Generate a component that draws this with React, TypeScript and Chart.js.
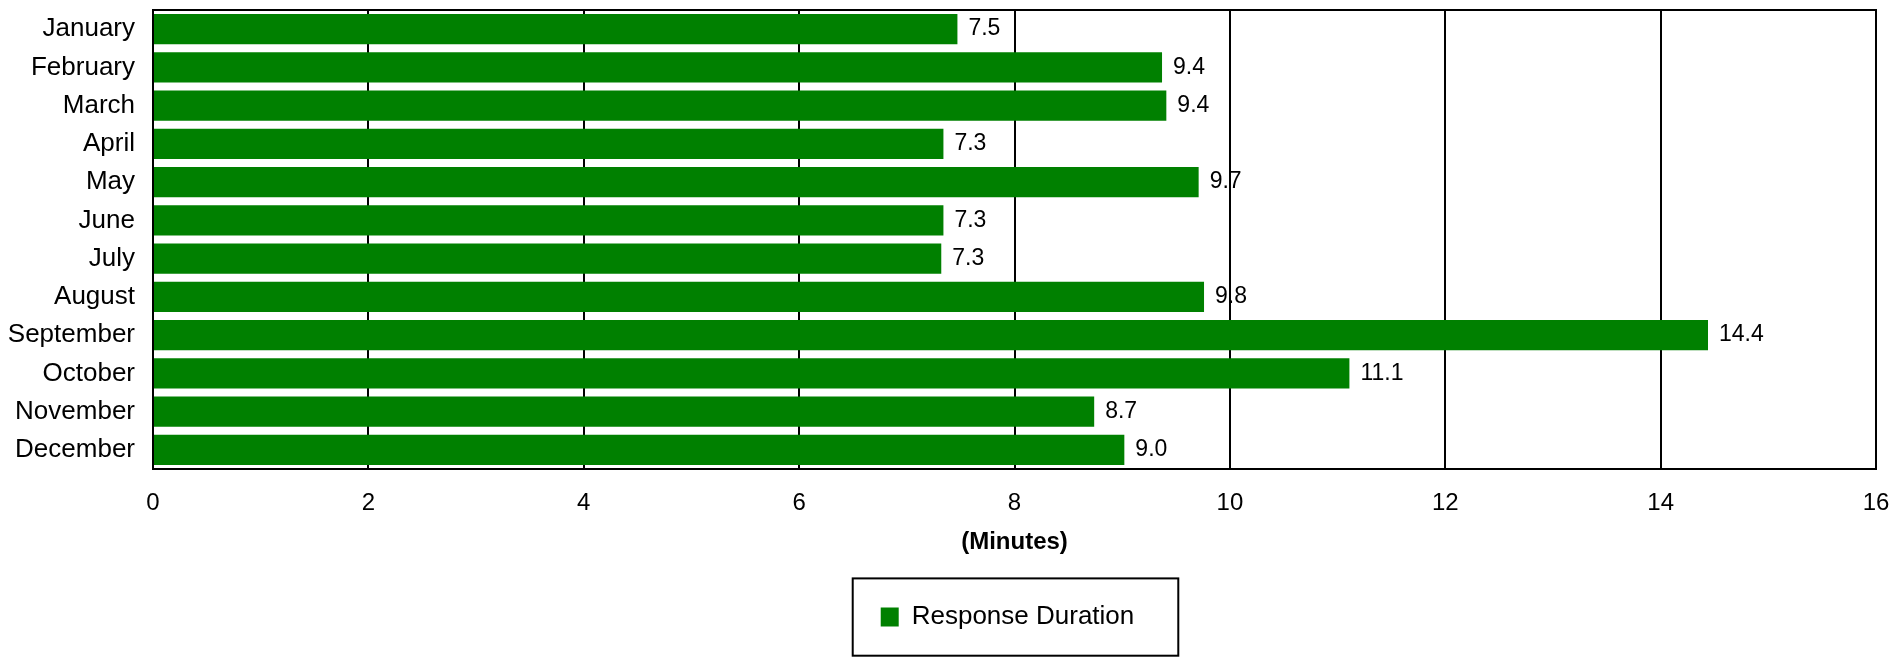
import React, { useEffect, useRef } from "react";
import { Chart, registerables } from "chart.js";

Chart.register(...registerables);

const months = [
  "January", "February", "March", "April", "May", "June",
  "July", "August", "September", "October", "November", "December",
];
const responseMinutes = [7.47, 9.37, 9.41, 7.34, 9.71, 7.34, 7.32, 9.76, 14.44, 11.11, 8.74, 9.02];
const seriesName = "Response Duration";
const axisTitle = "(Minutes)";
const xMin = 0;
const xMax = 16;
const xStep = 2;

const FONT = "'Liberation Sans', Arial, Helvetica, sans-serif";
const GREEN = "#008000";

const framePlugin = {
  id: "frame",
  afterLayout(chart: any) {
    const lg = chart.legend;
    if (lg) {
      lg.left -= 7;
      lg.right -= 7;
    }
  },
  beforeDatasetsDraw(chart: any) {
    const { ctx, chartArea } = chart;
    ctx.save();
    ctx.strokeStyle = "#000";
    ctx.lineWidth = 2;
    ctx.strokeRect(chartArea.left, chartArea.top, chartArea.right - chartArea.left, chartArea.bottom - chartArea.top);
    ctx.restore();
  },
  afterDatasetsDraw(chart: any) {
    const { ctx } = chart;
    const meta = chart.getDatasetMeta(0);
    const data = chart.data.datasets[0].data as number[];
    ctx.save();
    ctx.font = `23px ${FONT}`;
    ctx.fillStyle = "#000";
    ctx.textAlign = "left";
    ctx.textBaseline = "middle";
    meta.data.forEach((bar: any, i: number) => {
      ctx.fillText(Number(data[i]).toFixed(1), bar.x + 11, bar.y);
    });
    ctx.restore();
  },
  afterDraw(chart: any) {
    const legend = chart.legend;
    if (!legend || !legend.legendHitBoxes || !legend.legendHitBoxes.length) return;
    const hb = legend.legendHitBoxes[0];
    const { ctx } = chart;
    const cy = hb.top + hb.height / 2;
    ctx.save();
    ctx.strokeStyle = "#000";
    ctx.lineWidth = 2;
    ctx.strokeRect(hb.left - 28, cy - 38.6, hb.width + 72, 77.3);
    ctx.restore();
  },
};

export default function App() {
  const canvasRef = useRef<HTMLCanvasElement | null>(null);

  useEffect(() => {
    if (!canvasRef.current) return;
    const chart = new Chart(canvasRef.current, {
      type: "bar",
      data: {
        labels: months,
        datasets: [
          {
            label: seriesName,
            data: responseMinutes,
            backgroundColor: GREEN,
            borderWidth: 0,
            barPercentage: 0.79,
            categoryPercentage: 1,
          },
        ],
      },
      options: {
        indexAxis: "y",
        animation: false,
        responsive: false,
        devicePixelRatio: 1,
        layout: { padding: { top: 10, right: 18, bottom: 17, left: 0 } },
        plugins: {
          tooltip: { enabled: false },
          legend: {
            display: true,
            position: "bottom",
            fullSize: false,
            labels: {
              boxWidth: 18,
              boxHeight: 19,
              padding: 10,
              color: "#000",
              font: { family: FONT, size: 26 },
            },
          },
        },
        scales: {
          x: {
            type: "linear",
            min: xMin,
            max: xMax,
            ticks: {
              stepSize: xStep,
              color: "#000",
              padding: 20,
              font: { family: FONT, size: 24 },
            },
            grid: { color: "#000", lineWidth: 2, drawTicks: false },
            border: { display: false },
            title: {
              display: true,
              text: axisTitle,
              color: "#000",
              font: { family: FONT, size: 24, weight: "bold" },
              padding: { top: 0, bottom: 37 },
            },
            afterFit: (s: any) => {
              s.height = 125;
              s.paddingLeft = 0;
              s.paddingRight = 0;
            },
          },
          y: {
            ticks: {
              color: "#000",
              padding: 18,
              font: { family: FONT, size: 26 },
            },
            grid: { display: false, drawTicks: false },
            border: { display: false },
            afterFit: (s: any) => {
              s.width = 153;
              s.paddingTop = 0;
              s.paddingBottom = 0;
            },
          },
        },
      } as any,
      plugins: [framePlugin],
    });
    return () => chart.destroy();
  }, []);

  return (
    <div style={{ position: "absolute", left: 0, top: 0, width: 1894, height: 657, background: "#fff" }}>
      <canvas ref={canvasRef} width={1894} height={657} style={{ display: "block", width: 1894, height: 657 }} />
    </div>
  );
}
